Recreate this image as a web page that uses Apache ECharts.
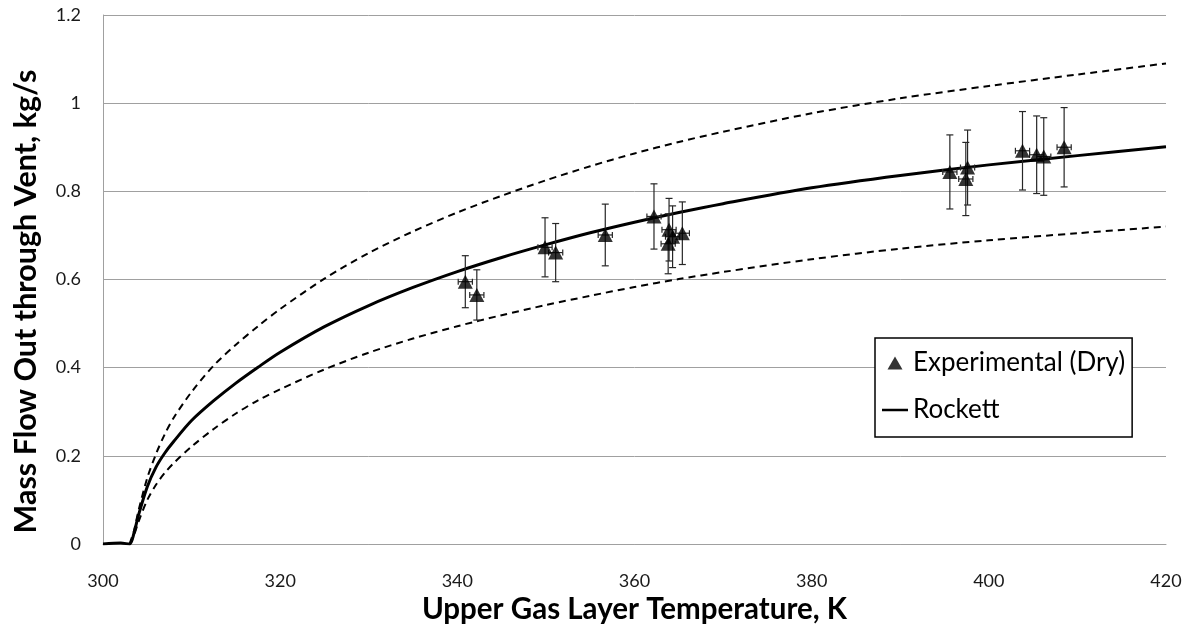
<!DOCTYPE html>
<html>
<head>
<meta charset="utf-8">
<script src="https://cdn.jsdelivr.net/npm/echarts@6/dist/echarts.min.js"></script>
<style>
  html, body { margin: 0; padding: 0; background: #fff; }
  #chart { width: 1192px; height: 634px; }
</style>
</head>
<body>
<div id="chart"></div>
<script>
// Measured vent outflow (dry tests): temperature [K], mass flow [kg/s], flow uncertainty [kg/s]
const expTemp = [340.9, 342.2, 349.9, 351.1, 356.7, 362.2, 363.9, 363.8, 364.3, 365.4,
                 395.6, 397.6, 397.4, 403.8, 405.4, 406.2, 408.5];
const expFlow = [0.595, 0.565, 0.673, 0.661, 0.701, 0.743, 0.713, 0.681, 0.697, 0.705,
                 0.844, 0.854, 0.828, 0.892, 0.883, 0.879, 0.900];
const expFlowErr = [0.059, 0.057, 0.067, 0.066, 0.070, 0.074, 0.071, 0.068, 0.070, 0.071,
                    0.084, 0.085, 0.083, 0.089, 0.088, 0.088, 0.090];
const expTempErr = 0.8;

// Rockett correlation and its upper / lower uncertainty band
const curveTemp    = [300, 302, 303, 303.5, 304, 305, 306, 307, 308, 310, 312.5, 315, 317.5, 320,
                      325, 330, 335, 340, 345, 350, 355, 360, 365, 370, 380, 390, 400, 410, 420];
const rockett      = [0, 0.002, 0, 0.025, 0.065, 0.13, 0.175, 0.207, 0.233, 0.28, 0.325, 0.365, 0.401, 0.435,
                      0.493, 0.541, 0.582, 0.618, 0.650, 0.679, 0.706, 0.730, 0.752, 0.772, 0.808, 0.836, 0.860, 0.881, 0.901];
const rockettUpper = [null, null, 0, 0.03, 0.075, 0.15, 0.205, 0.25, 0.287, 0.345, 0.405, 0.452, 0.494, 0.533,
                      0.602, 0.66, 0.709, 0.752, 0.790, 0.825, 0.857, 0.886, 0.912, 0.935, 0.977, 1.011, 1.039, 1.065, 1.09];
const rockettLower = [null, null, 0, 0.02, 0.05, 0.10, 0.135, 0.162, 0.184, 0.221, 0.261, 0.296, 0.326, 0.351,
                      0.396, 0.434, 0.466, 0.494, 0.519, 0.542, 0.563, 0.583, 0.601, 0.617, 0.646, 0.67, 0.689, 0.705, 0.72];

const FONT = 'Lato, "Liberation Sans", sans-serif';

const pairs = (xs, ys) => xs.map((x, i) => [x, ys[i]]).filter(p => p[1] !== null);
const expPoints = expTemp.map((t, i) => [t, expFlow[i]]);
const errPoints = expTemp.map((t, i) => [t, expFlow[i], expFlowErr[i], expTempErr]);

const chart = echarts.init(document.getElementById('chart'), null, { renderer: 'canvas' });

chart.setOption({
  animation: false,
  backgroundColor: '#fff',
  grid: { left: 103, right: 26, top: 15, bottom: 90, containLabel: false, outerBoundsMode: 'none' },
  xAxis: {
    type: 'value', min: 300, max: 420, interval: 20,
    name: 'Upper Gas Layer Temperature, K',
    nameLocation: 'middle', nameGap: 50,
    nameTextStyle: { fontFamily: FONT, fontSize: 29.5, fontWeight: 'bold', color: '#000' },
    axisLine: { show: true, lineStyle: { color: '#a0a0a0', width: 1 } },
    axisTick: { show: false },
    axisLabel: { margin: 28, fontFamily: FONT, fontSize: 18, color: '#1a1a1a' },
    splitLine: { show: false }
  },
  yAxis: {
    type: 'value', min: 0, max: 1.2, interval: 0.2,
    name: 'Mass Flow Out through Vent, kg/s',
    nameLocation: 'middle', nameGap: 61, nameRotate: 90,
    nameTextStyle: { fontFamily: FONT, fontSize: 30.5, fontWeight: 'bold', color: '#000', padding: [0, 44, 0, 0] },
    axisLine: { show: true, lineStyle: { color: '#a0a0a0', width: 1 } },
    axisTick: { show: false },
    axisLabel: { margin: 22, fontFamily: FONT, fontSize: 18, color: '#1a1a1a' },
    splitLine: { show: true, lineStyle: { color: '#a0a0a0', width: 1 } }
  },
  legend: {
    orient: 'vertical',
    left: 875, top: 338,
    padding: [12, 7, 14, 7],
    itemGap: 21,
    itemWidth: 26, itemHeight: 13,
    symbolKeepAspect: true,
    backgroundColor: '#fff',
    borderColor: '#000', borderWidth: 1.5, borderRadius: 0,
    textStyle: { fontFamily: FONT, fontSize: 26, color: '#000' },
    data: [
      { name: 'Experimental (Dry)', icon: 'path://M0,13L7.5,0L15,13Z', itemStyle: { color: '#000' } },
      { name: 'Rockett', icon: 'path://M0,0L26,0L26,2.5L0,2.5Z', itemStyle: { color: '#000' } }
    ]
  },
  series: [
    {
      name: 'Rockett Upper', type: 'line', data: pairs(curveTemp, rockettUpper),
      smooth: 0.3, symbol: 'none', silent: true,
      lineStyle: { color: '#000', width: 2, type: [7, 5] }, z: 2
    },
    {
      name: 'Rockett Lower', type: 'line', data: pairs(curveTemp, rockettLower),
      smooth: 0.3, symbol: 'none', silent: true,
      lineStyle: { color: '#000', width: 2, type: [7, 5] }, z: 2
    },
    {
      name: 'Rockett', type: 'line', data: pairs(curveTemp, rockett),
      smooth: 0.3, symbol: 'none', silent: true,
      itemStyle: { color: '#000' },
      lineStyle: { color: '#000', width: 3 }, z: 3
    },
    {
      name: 'Error bars', type: 'custom', data: errPoints,
      encode: { x: 0, y: 1 }, silent: true, z: 4,
      renderItem: function (params, api) {
        const t = api.value(0), m = api.value(1), dm = api.value(2), dt = api.value(3);
        const top = api.coord([t, m + dm]);
        const bot = api.coord([t, m - dm]);
        const lft = api.coord([t - dt, m]);
        const rgt = api.coord([t + dt, m]);
        const cw = 3.5, ch = 3;
        const style = { stroke: '#262626', lineWidth: 1.2, fill: null };
        const seg = (x1, y1, x2, y2) => ({ type: 'line', shape: { x1, y1, x2, y2 }, style });
        return {
          type: 'group',
          children: [
            seg(top[0], top[1], bot[0], bot[1]),
            seg(top[0] - cw, top[1], top[0] + cw, top[1]),
            seg(bot[0] - cw, bot[1], bot[0] + cw, bot[1]),
            seg(lft[0], lft[1], rgt[0], rgt[1]),
            seg(lft[0], lft[1] - ch, lft[0], lft[1] + ch),
            seg(rgt[0], rgt[1] - ch, rgt[0], rgt[1] + ch)
          ]
        };
      }
    },
    {
      name: 'Experimental (Dry)', type: 'scatter', data: expPoints,
      symbol: 'triangle', symbolSize: [15, 14], silent: true,
      itemStyle: { color: '#000' }, z: 5
    }
  ]
});
</script>
</body>
</html>
